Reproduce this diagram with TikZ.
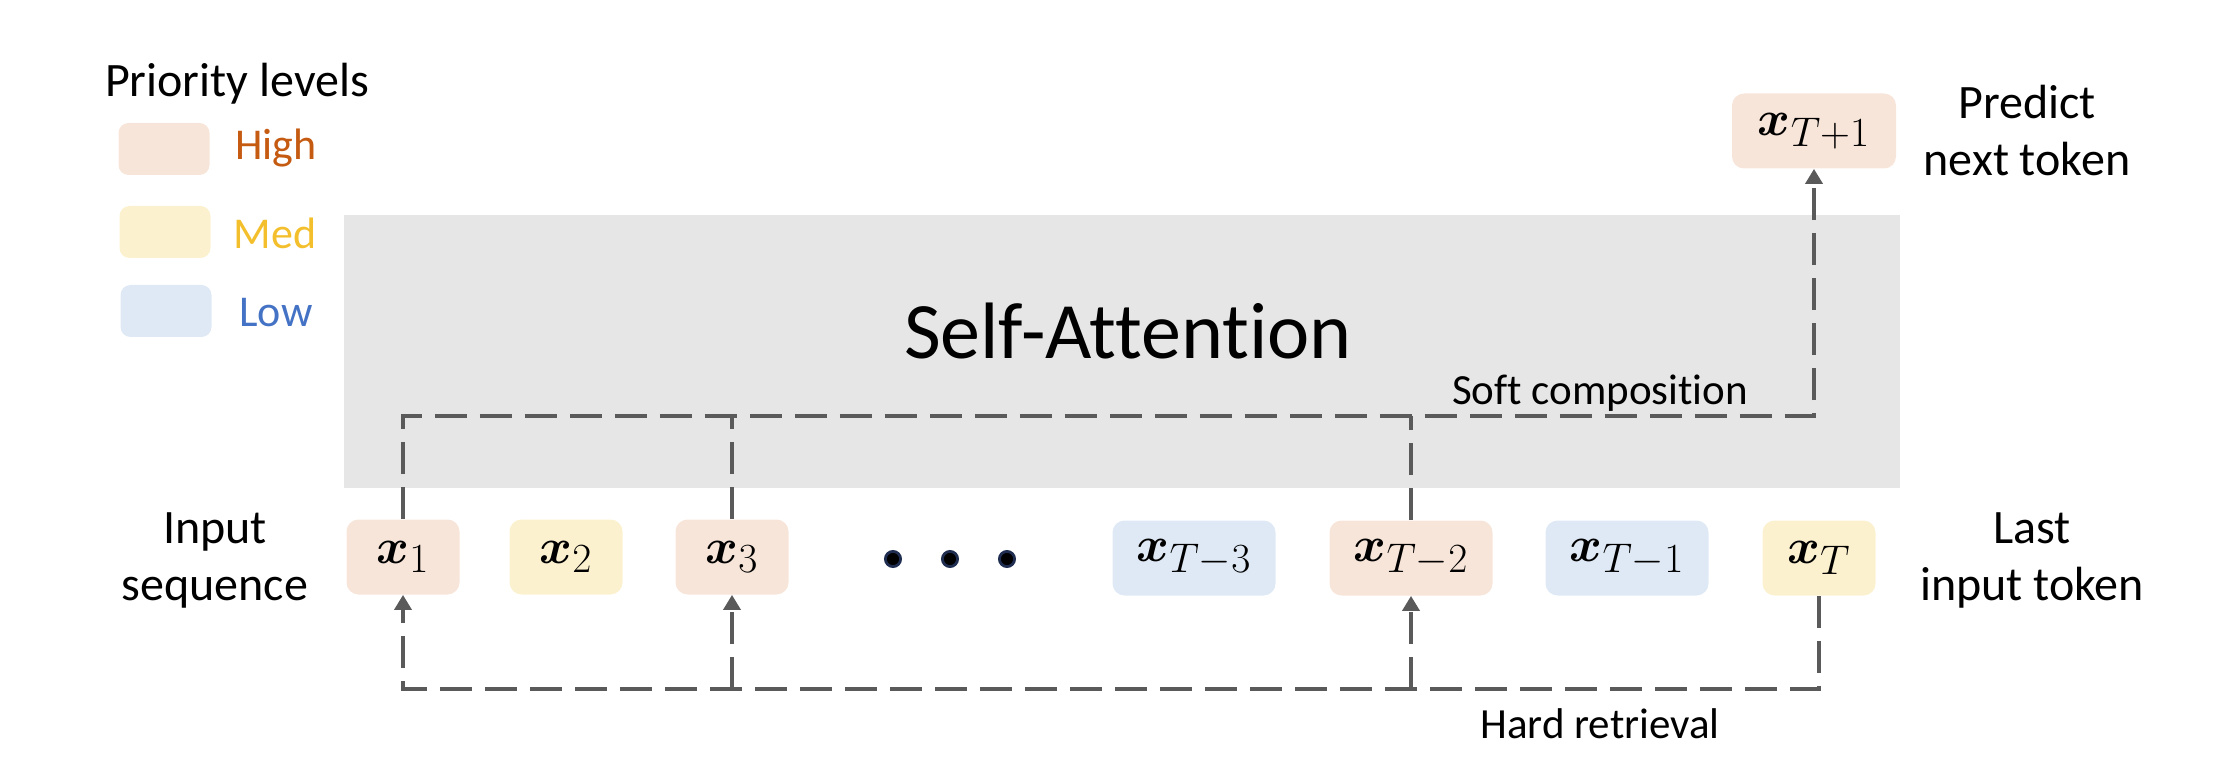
\documentclass[tikz,border=0pt]{standalone}
\usepackage{amsmath,amssymb,bm}
\usepackage[no-math]{fontspec}
\setmainfont{Carlito}[RawFeature={-liga,-clig,-dlig}]
\usetikzlibrary{arrows.meta,calc}
\definecolor{hiFill}{HTML}{F8E5D9}
\definecolor{medFill}{HTML}{FCF1CF}
\definecolor{lowFill}{HTML}{DFE9F5}
\definecolor{hiText}{HTML}{C55A11}
\definecolor{medText}{HTML}{F4BF2C}
\definecolor{lowText}{HTML}{4472C4}
\definecolor{panel}{HTML}{E6E6E6}
\definecolor{lineGray}{HTML}{5A5A5A}
\definecolor{dotRing}{HTML}{1F2D50}
\tikzset{
  tok/.style={rounded corners=6pt, minimum height=37.5pt, inner sep=0pt,
    font=\fontsize{29.5}{32}\selectfont},
  tokS/.style={tok, minimum width=56.5pt},
  tokL/.style={tok, minimum width=81.5pt},
  hi/.style={fill=hiFill},
  med/.style={fill=medFill},
  low/.style={fill=lowFill},
  legbox/.style={rounded corners=5pt, minimum width=45.5pt, minimum height=26pt, inner sep=0pt},
  legtext/.style={font=\fontsize{22}{26}\selectfont, inner sep=0pt},
  lbl/.style={font=\fontsize{24}{28.5}\selectfont, align=center, inner sep=0pt},
  pathlbl/.style={font=\fontsize{21.5}{25}\selectfont, inner sep=0pt},
  dashline/.style={draw=lineGray, line width=1.8pt, dash pattern=on 16pt off 6.5pt},
  tip/.style={-{Triangle[width=8.5pt,length=7.5pt]}},
  dot/.style={circle, fill=black, draw=dotRing, line width=1.4pt, minimum size=7.6pt, inner sep=0pt}
}
\begin{document}
\begin{tikzpicture}[x=0.5pt,y=-0.5pt]
\useasboundingbox (0,0) rectangle (2238,764);
% panel
\fill[panel] (344,215) rectangle (1900,488);
\node[font=\fontsize{40}{44}\selectfont, anchor=base, inner sep=0pt] (sa) at (1128,359) {Self-Attention};

% legend
\node[lbl] (prio) at (237,84) {Priority levels};
\node[legbox,hi] (lhi) at (164,149) {};
\node[legbox,med] (lmed) at (165,232) {};
\node[legbox,low] (llow) at (166,311) {};
\node[legtext,text=hiText] (thi) at (276,148) {High};
\node[legtext,text=medText] (tmed) at (275,233) {Med};
\node[legtext,text=lowText] (tlow) at (276,313) {Low};

% tokens
\node[tokS,hi] (x1) at (403,557) {$\boldsymbol{x}_1$};
\node[tokS,med] (x2) at (566,557) {$\boldsymbol{x}_2$};
\node[tokS,hi] (x3) at (732,557) {$\boldsymbol{x}_3$};
\node[dot] (d1) at (893,559) {};
\node[dot] (d2) at (950,559) {};
\node[dot] (d3) at (1007,559) {};
\node[tokL,low] (xT3) at (1194,558) {$\boldsymbol{x}_{T-3}$};
\node[tokL,hi] (xT2) at (1411,558) {$\boldsymbol{x}_{T-2}$};
\node[tokL,low] (xT1) at (1627,558) {$\boldsymbol{x}_{T-1}$};
\node[tokS,med] (xT) at (1819,558) {$\boldsymbol{x}_T$};
\node[tok,hi,minimum width=82pt] (xN) at (1814,131) {$\boldsymbol{x}_{T+1}$};

% side labels
\node[lbl] (inseq) at (215,560) {Input\\sequence};
\node[lbl] (last) at (2032,560) {Last\\input token};
\node[lbl] (pred) at (2027,131) {Predict\\next token};

% soft composition
\coordinate (sc) at (1814,416);
\draw[dashline,tip] (x1.north) |- (sc) -- (xN.south);
\draw[dashline] (x3.north) -- (x3.north |- sc);
\draw[dashline] (xT2.north) -- (xT2.north |- sc);
\node[pathlbl, anchor=base] (softl) at (1600,405) {Soft composition};

% hard retrieval
\coordinate (hc) at (403,689);
\draw[dashline,tip] (xT.south) |- (hc) -- (x1.south);
\draw[dashline,tip] (x3.south |- hc) -- (x3.south);
\draw[dashline,tip] (xT2.south |- hc) -- (xT2.south);
\node[pathlbl, anchor=base] (hardl) at (1600,738) {Hard retrieval};
\end{tikzpicture}
\end{document}
